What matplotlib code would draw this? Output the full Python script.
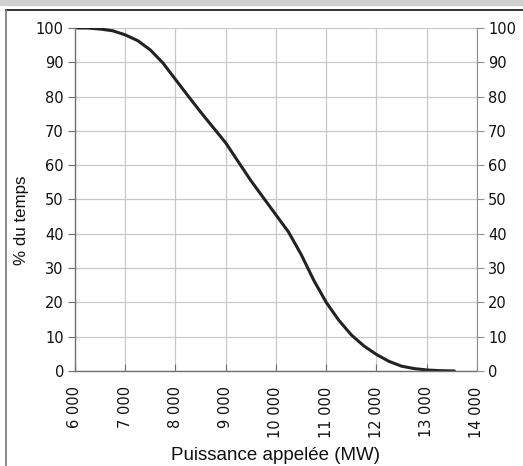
import matplotlib.pyplot as plt
from matplotlib.lines import Line2D
from matplotlib.patches import Rectangle
from matplotlib.ticker import FuncFormatter

plt.rcParams['font.family'] = ['DejaVu Sans']

# monotone load duration curve
puissance = [6050, 6250, 6500, 6750, 7000, 7250, 7500, 7750, 8000, 8250,
             8500, 8750, 9000, 9250, 9500, 9750, 10000, 10250, 10500, 10750,
             11000, 11250, 11500, 11750, 12000, 12250, 12500, 12750, 13000,
             13250, 13550]
temps = [100, 100, 99.7, 99.2, 98, 96.3, 93.6, 89.8, 85, 80.2,
         75.5, 71, 66.5, 61, 55.5, 50.5, 45.5, 40.5, 34, 26.5,
         20, 14.8, 10.5, 7.3, 4.8, 2.8, 1.4, 0.7, 0.3,
         0.1, 0]

x_ticks = list(range(6000, 14001, 1000))
y_ticks = list(range(0, 101, 10))

fig = plt.figure(figsize=(5.23, 4.66), dpi=100)
ax = fig.add_axes([0.1434, 0.2039, 0.912 - 0.1434, 0.9399 - 0.2039])

grid_c = '#c8c8c8'
ax.plot(puissance, temps, color='#222222', lw=2.2, solid_capstyle='round')
ax.set_xlim(6000, 14000)
ax.set_ylim(0, 100)
ax.set_xticks(x_ticks)
ax.set_yticks(y_ticks)
ax.grid(True, color=grid_c, lw=0.9)
ax.set_axisbelow(True)
ax.xaxis.set_major_formatter(FuncFormatter(lambda v, p: f'{int(v):,}'.replace(',', ' ')))
ax.tick_params(axis='x', direction='in', length=5, color='#707070', labelsize=10.5,
               rotation=90, pad=11, labelcolor='#111111')
ax.tick_params(axis='y', direction='out', length=5, color='#707070', labelsize=10.5,
               pad=3, labelcolor='#111111')
for s in ['top', 'right']:
    ax.spines[s].set_visible(False)
for s in ['left', 'bottom']:
    ax.spines[s].set_color('#707070')
    ax.spines[s].set_linewidth(1.0)

ax2 = ax.twinx()
ax2.set_ylim(0, 100)
ax2.set_yticks(y_ticks)
ax2.tick_params(axis='y', direction='out', length=5, color='#909090', labelsize=10.5,
                pad=3, labelcolor='#111111')
for s in ['top', 'left', 'bottom']:
    ax2.spines[s].set_visible(False)
ax2.spines['right'].set_color('#909090')

ax.set_xlabel('Puissance appelée (MW)', fontsize=13.5, family='Liberation Sans',
              color='#111111', va='center')
ax.xaxis.set_label_coords(0.5, -0.245)
ax.set_ylabel('% du temps', fontsize=12.2, family='Liberation Sans',
              color='#111111', va='center')
ax.yaxis.set_label_coords(-0.134, 0.44)

# frame of the original figure
fig.patches.append(Rectangle((0, 1 - 5 / 466), 1, 5 / 466, transform=fig.transFigure,
                             color='#d0d0d0', zorder=0))
fig.lines.append(Line2D([5.5 / 523, 1], [1 - 9.5 / 466, 1 - 9.5 / 466],
                        transform=fig.transFigure, color='#111111', lw=1.2))
fig.lines.append(Line2D([5.5 / 523, 5.5 / 523], [0, 1 - 9.5 / 466],
                        transform=fig.transFigure, color='#777777', lw=1.2))

fig.savefig('out.png', dpi=100)
